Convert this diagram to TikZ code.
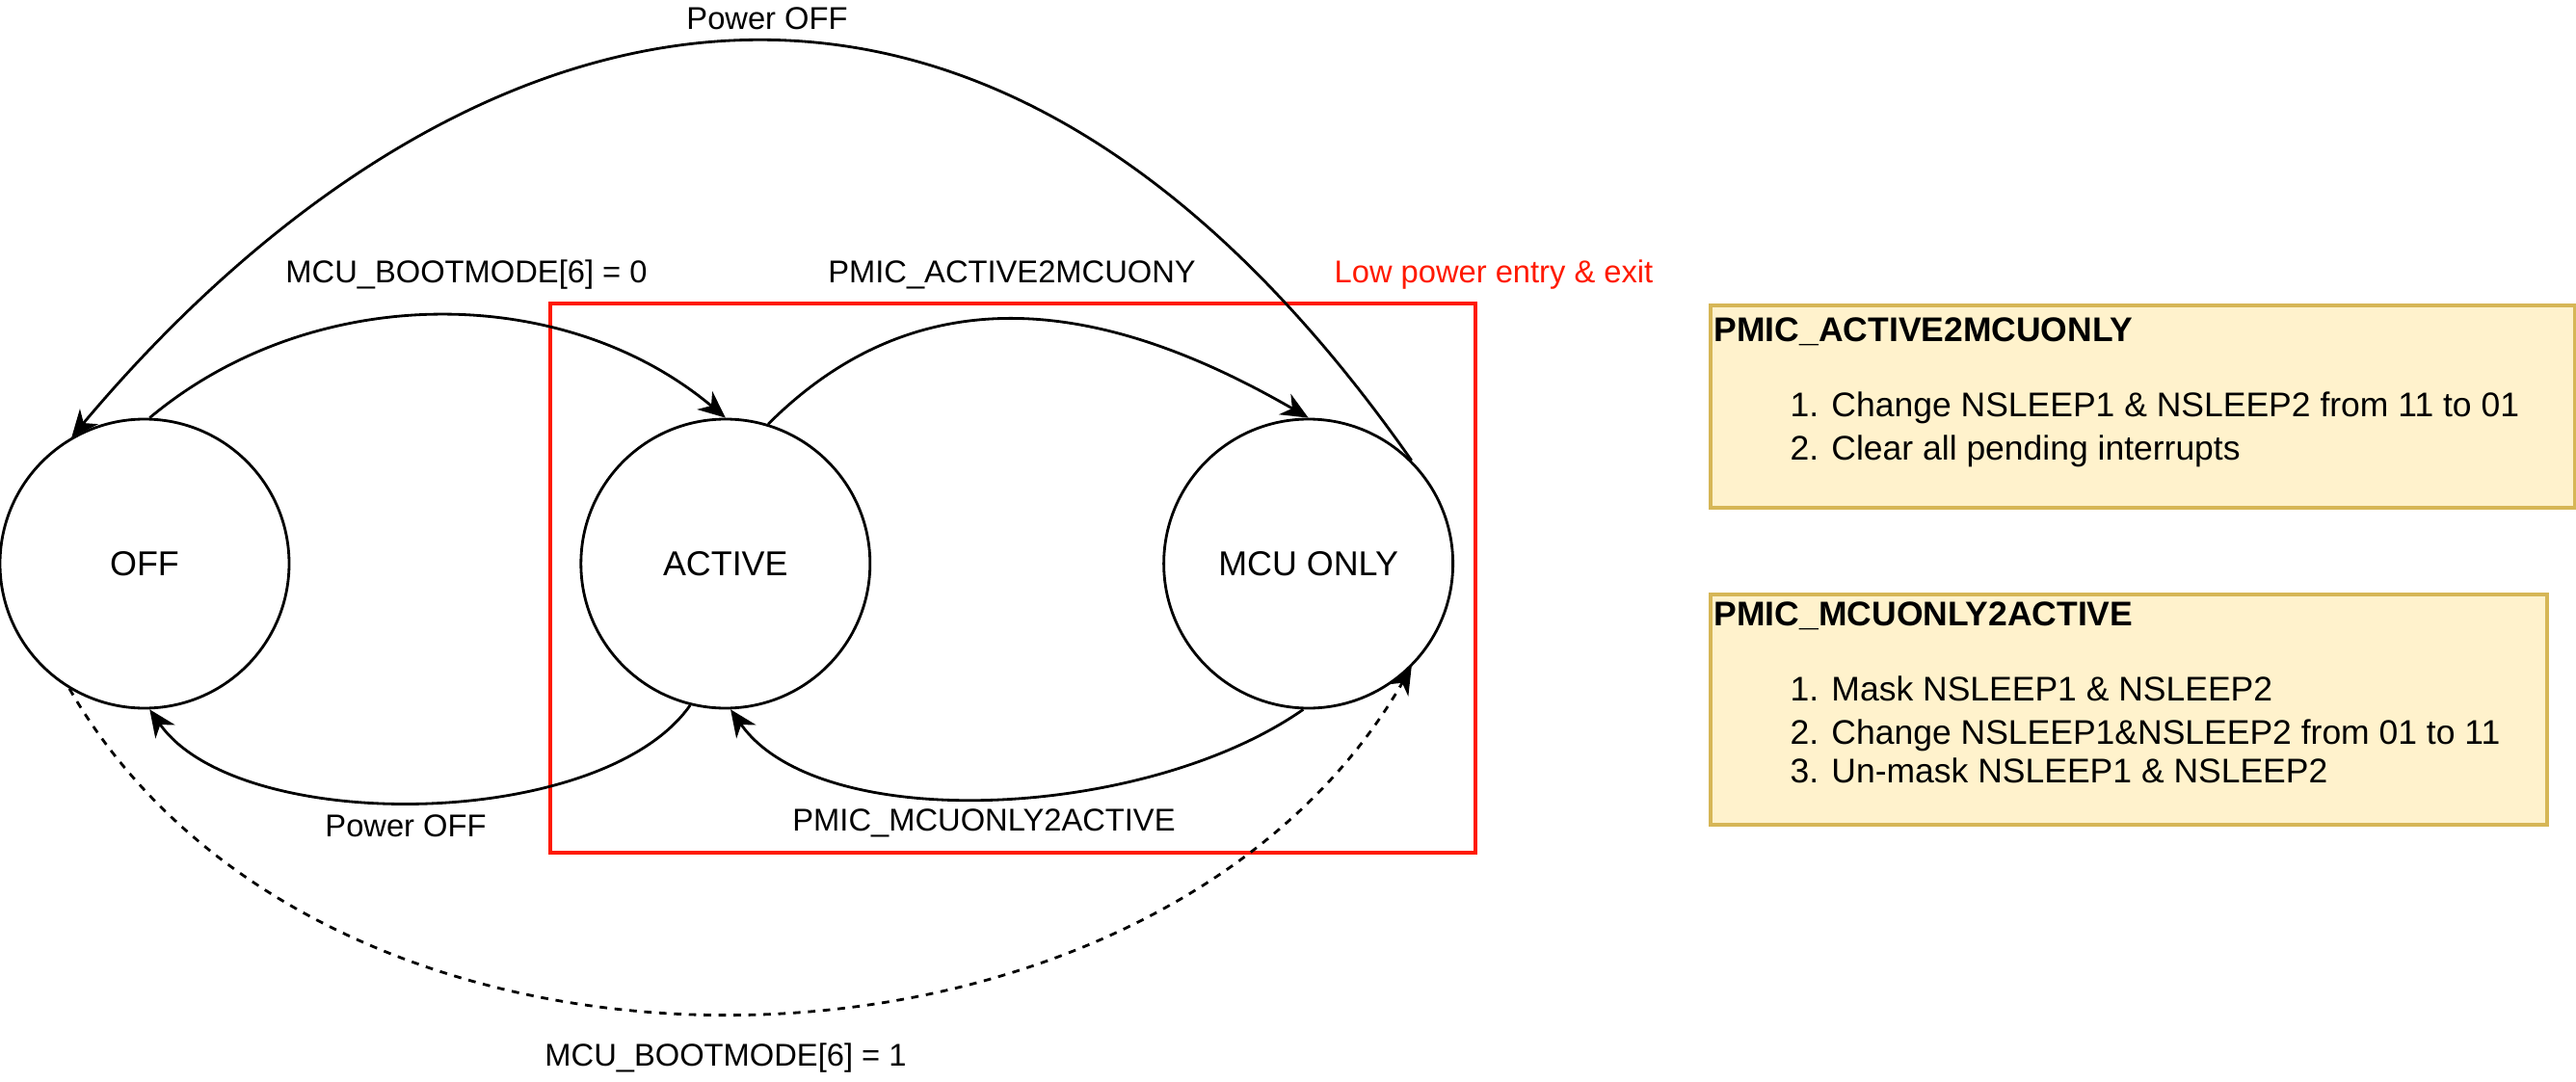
\documentclass[tikz,border=0pt]{standalone}
\usepackage{fontspec}
\setmainfont{Liberation Sans}
\usetikzlibrary{arrows.meta, positioning}
\definecolor{notefill}{HTML}{FFF2CC}
\definecolor{noteline}{HTML}{D6B656}
\definecolor{lowred}{HTML}{FF1A00}
\tikzstyle{pstate} = [circle, draw=black, thick, minimum size=3cm, inner sep=0pt, font=\fontsize{10.2}{12}\selectfont]
\tikzstyle{arrow} = [thick,-{Stealth[length=8pt,width=7pt,inset=2.5pt]}]
\tikzstyle{elabel} = [inner sep=0pt, font=\fontsize{9.3}{11}\selectfont]
\tikzstyle{note} = [rectangle, draw=noteline, fill=notefill, line width=1pt, anchor=north west, inner sep=0pt]
\tikzstyle{notehead} = [anchor=base west, inner sep=0pt, font=\fontsize{10.1}{12}\selectfont\bfseries]
\tikzstyle{noteitem} = [anchor=base west, inner sep=0pt, font=\fontsize{10.1}{12}\selectfont]

\begin{document}
\begin{tikzpicture}[node distance=3cm]
        \useasboundingbox (0,0) rectangle (26.73,11.22);
        % States
        \node (off) [pstate] at (1.50,5.37) {OFF};
        \node (active) [pstate, right=3cm of off] {ACTIVE};
        \node (mcuonly) [pstate, right=3.02cm of active] {MCU ONLY};

        % Low power region
        \draw [lowred, line width=1.1pt] (5.71,2.37) rectangle (15.31,8.07);
        \node (lowlbl) [elabel, text=lowred] at (15.50,8.37) {Low power entry \& exit};

        % Transitions
        \draw [arrow] (off.88) .. controls +(40:2.2) and +(140:2.2) .. (active.north);
        \draw [arrow] (active.73) .. controls +(45:2.4) and +(150:2.2) .. (mcuonly.north);
        \draw [arrow] (mcuonly.45) .. controls +(125:8.5) and +(50:5.5) .. (off.120);
        \draw [arrow] (active.256) .. controls +(235:1.6) and +(-55:1.6) .. (off.-88);
        \draw [arrow] (mcuonly.268) .. controls +(215:2.0) and +(-55:1.6) .. (active.-88);
        \draw [arrow, dash pattern=on 2.2pt off 2.2pt] (off.239) .. controls +(-60:5.36) and +(240:5.36) .. (mcuonly.-45); % boot straight to MCU only

        % Transition labels
        \node (offlbltop) [elabel] at (7.96,11.03) {Power OFF};
        \node (bootlbl0) [elabel] at (4.84,8.37) {MCU\_BOOTMODE[6] = 0};
        \node (a2mlbl) [elabel] at (10.50,8.37) {PMIC\_ACTIVE2MCUONY};
        \node (offlblbot) [elabel] at (4.21,2.65) {Power OFF};
        \node (m2albl) [elabel] at (10.21,2.68) {PMIC\_MCUONLY2ACTIVE};
        \node (bootlbl1) [elabel] at (7.53,0.24) {MCU\_BOOTMODE[6] = 1};

        % Notes
        \node (a2mbox) [note, minimum width=8.97cm, minimum height=2.10cm] at (17.73,8.07) {};
        \node (a2mhead) [notehead] at (17.78,7.68) {PMIC\_ACTIVE2MCUONLY};
        \node (a2mstep1) [noteitem] at (18.57,6.90) {1. Change NSLEEP1 \& NSLEEP2 from 11 to 01};
        \node (a2mstep2) [noteitem] at (18.57,6.45) {2. Clear all pending interrupts};

        \node (m2abox) [note, minimum width=8.68cm, minimum height=2.39cm] at (17.73,5.07) {};
        \node (m2ahead) [notehead] at (17.78,4.73) {PMIC\_MCUONLY2ACTIVE};
        \node (m2astep1) [noteitem] at (18.57,3.95) {1. Mask NSLEEP1 \& NSLEEP2};
        \node (m2astep2) [noteitem] at (18.57,3.50) {2. Change NSLEEP1\&NSLEEP2 from 01 to 11};
        \node (m2astep3) [noteitem] at (18.57,3.10) {3. Un-mask NSLEEP1 \& NSLEEP2};
\end{tikzpicture}
\end{document}
